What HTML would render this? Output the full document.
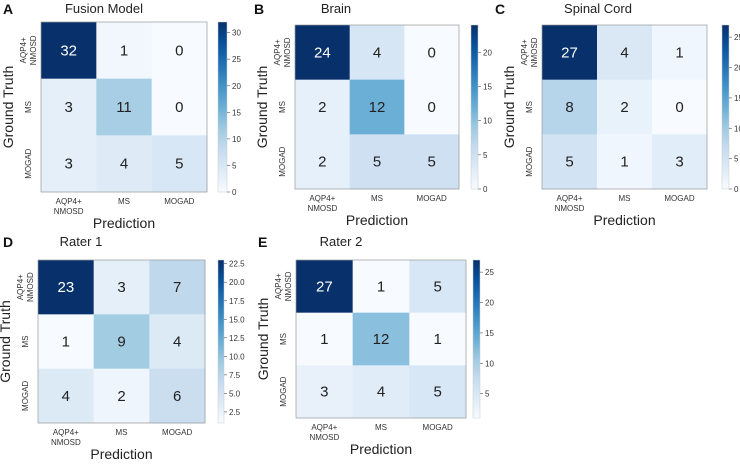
<!DOCTYPE html>
<html><head><meta charset="utf-8">
<style>
html,body{margin:0;padding:0;background:#fff;}
svg{display:block;font-family:"Liberation Sans","DejaVu Sans",sans-serif;}
</style></head>
<body>
<svg id="fig" width="740" height="469" viewBox="0 0 740 469" xmlns="http://www.w3.org/2000/svg"></svg>
<script>
const classLabels = [["AQP4+","NMOSD"],["MS"],["MOGAD"]];
const fusionValues = [[32,1,0],[3,11,0],[3,4,5]];
const brainValues = [[24,4,0],[2,12,0],[2,5,5]];
const spinalValues = [[27,4,1],[8,2,0],[5,1,3]];
const rater1Values = [[23,3,7],[1,9,4],[4,2,6]];
const rater2Values = [[27,1,5],[1,12,1],[3,4,5]];
const fusionTicks = [0,5,10,15,20,25,30];
const brainTicks = [0,5,10,15,20];
const spinalTicks = [0,5,10,15,20,25];
const rater1Ticks = [2.5,5.0,7.5,10.0,12.5,15.0,17.5,20.0,22.5];
const rater2Ticks = [5,10,15,20,25];

const NS="http://www.w3.org/2000/svg";
const svg=document.getElementById('fig');
const stops=["#f7fbff","#deebf7","#c6dbef","#9ecae1","#6baed6","#4292c6","#2171b5","#08519c","#08306b"];
function hex(h){return [1,3,5].map(i=>parseInt(h.substr(i,2),16));}
function blues(t){t=Math.max(0,Math.min(1,t));const p=t*(stops.length-1);const i=Math.min(Math.floor(p),stops.length-2);const f=p-i;const a=hex(stops[i]),b=hex(stops[i+1]);return "rgb("+a.map((v,k)=>Math.round(v+(b[k]-v)*f)).join(",")+")";}
function mk(tag,attrs,parent){const e=document.createElementNS(NS,tag);for(const k in attrs)e.setAttribute(k,attrs[k]);(parent||svg).appendChild(e);return e;}
function txt(s,attrs,parent){const e=mk('text',attrs,parent);e.textContent=s;return e;}

const panels=[
 {id:"a",letter:"A",title:"Fusion Model",vals:fusionValues,ticks:fusionTicks,vmin:0,vmax:32,x0:41,x1:207,y0:22,y1:192,cb0:218,cb1:227,tx:104,ty:13,lx:3},
 {id:"b",letter:"B",title:"Brain",vals:brainValues,ticks:brainTicks,vmin:0,vmax:24,x0:295,x1:459,y0:25,y1:189,cb0:471,cb1:478,tx:336,ty:13,lx:254},
 {id:"c",letter:"C",title:"Spinal Cord",vals:spinalValues,ticks:spinalTicks,vmin:0,vmax:27,x0:542,x1:707,y0:25,y1:189,cb0:722,cb1:729,tx:598,ty:13,lx:495},
 {id:"d",letter:"D",title:"Rater 1",vals:rater1Values,ticks:rater1Ticks,vmin:1,vmax:23,x0:38,x1:205,y0:260,y1:423,cb0:218,cb1:224,tx:81,ty:246,lx:3,dec:true},
 {id:"e",letter:"E",title:"Rater 2",vals:rater2Values,ticks:rater2Ticks,vmin:1,vmax:27,x0:296,x1:466,y0:260,y1:418,cb0:473,cb1:480,tx:341,ty:246,lx:258}
];
const defs=mk('defs',{});
panels.forEach(p=>{
  const g=mk('g',{});
  
  
  const n=p.vals.length;
  const cw=(p.x1-p.x0)/n, ch=(p.y1-p.y0)/n;
  const xs=j=>p.x0+j*cw, ys=i=>p.y0+i*ch;
  const norm=v=>(v-p.vmin)/(p.vmax-p.vmin);
  const l=txt(p.letter,{x:p.lx,y:p.ty+1,'font-size':14,'font-weight':'bold',fill:'#111'},g);
  
  
  const t=txt(p.title,{x:p.tx,y:p.ty,'font-size':13,'text-anchor':'middle',fill:'#222'},g);
  
  
  p.vals.forEach((row,i)=>row.forEach((v,j)=>{
    const r=mk('rect',{x:xs(j),y:ys(i),width:cw+0.5,height:ch+0.5,fill:blues(norm(v))},g);
    
    
    const c=txt(String(v),{x:xs(j)+cw/2,y:ys(i)+ch/2+5,'font-size':15,'text-anchor':'middle',fill:norm(v)>0.6?'#fff':'#222'},g);
    
    
  }));
  mk('rect',{x:p.x0,y:p.y0,width:p.x1-p.x0,height:p.y1-p.y0,fill:'none',stroke:'#999','stroke-width':0.7},g);
  classLabels.forEach((lab,j)=>{
    const xl=txt('',{x:xs(j)+cw/2,y:p.y1+12,'font-size':8,'text-anchor':'middle',fill:'#333'},g);
    
    
    lab.forEach((s,k)=>{const ts=mk('tspan',{x:xs(j)+cw/2,dy:k?10:0},xl);ts.textContent=s;});
    const cy=ys(j)+ch/2, cx=p.x0-10-(lab.length-1)*5;
    const yl=txt('',{x:cx,y:cy,'font-size':8,'text-anchor':'middle',fill:'#333',transform:`rotate(-90 ${cx} ${cy})`},g);
    
    
    lab.forEach((s,k)=>{const ts=mk('tspan',{x:cx,dy:k?10:0},yl);ts.textContent=s;});
  });
  const xt=txt('Prediction',{x:(p.x0+p.x1)/2,y:p.y1+36,'font-size':14,'text-anchor':'middle',fill:'#222'},g);
  
  
  const ax=p.x0-28, ay=(p.y0+p.y1)/2;
  const yt=txt('Ground Truth',{x:ax,y:ay,'font-size':14,'text-anchor':'middle',fill:'#222',transform:`rotate(-90 ${ax} ${ay})`},g);
  
  
  const gr=mk('linearGradient',{id:'grad-'+p.id,x1:0,y1:1,x2:0,y2:0},defs);
  for(let k=0;k<=8;k++)mk('stop',{offset:k/8,'stop-color':stops[k]},gr);
  const cb=mk('rect',{x:p.cb0,y:p.y0,width:p.cb1-p.cb0,height:p.y1-p.y0,fill:`url(#grad-${p.id})`,stroke:'#ccc','stroke-width':0.5},g);
  
  
  const cbY=v=>p.y1-norm(v)*(p.y1-p.y0);
  p.ticks.forEach(v=>{
    const y=cbY(v);
    mk('line',{x1:p.cb1,x2:p.cb1+3,y1:y,y2:y,stroke:'#555','stroke-width':0.6},g);
    const tl=txt(p.dec?v.toFixed(1):String(v),{x:p.cb1+5,y:y+3,'font-size':8,fill:'#333'},g);
    
    
  });
});
</script>
</body></html>
